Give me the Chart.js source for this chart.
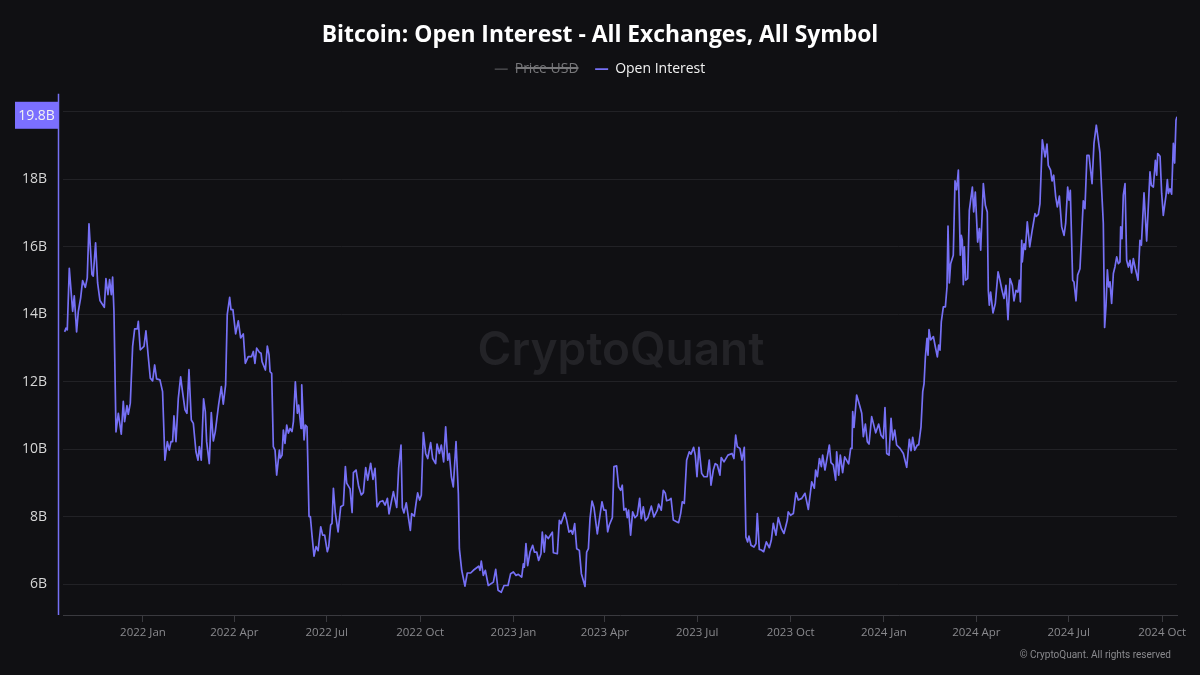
<!DOCTYPE html>
<html><head><meta charset="utf-8">
<style>html,body{margin:0;padding:0;background:#101013}canvas{display:block}</style>
<script src="https://cdn.jsdelivr.net/npm/chart.js@4"></script>
</head><body><canvas id="c" width="1200" height="675"></canvas>
<script>
const chartTitle = 'Bitcoin: Open Interest - All Exchanges, All Symbol';
const quarterDays = [0,90,181,273,365,455,546,638,730,821,912,1004];
const quarterLabels = ['2022 Jan','2022 Apr','2022 Jul','2022 Oct','2023 Jan','2023 Apr','2023 Jul','2023 Oct','2024 Jan','2024 Apr','2024 Jul','2024 Oct'];
const yTickValues = [6,8,10,12,14,16,18,20];
const lastLabel = '19.8B';
// days since 2022-01-01
const days = [-77.2,-75.9,-74.6,-72.6,-69.3,-67.7,-65.4,-63.7,-61.4,-59.5,-56.8,-54.9,-53.2,-50.3,-49,-46.7,-44.7,-42.4,-38.1,-36.5,-34.5,-32.9,-31.2,-29.9,-28.6,-26.6,-24.3,-21.4,-19.4,-18.1,-15.8,-14.5,-12.5,-10.2,-8.2,-5.6,-4.6,-2.7,1,2.9,5.2,7.2,9.5,11.5,13.4,16.7,19.3,21.6,24,25.9,27.6,29.2,30.5,32.5,34.8,37.1,38.7,41.4,43.3,45.3,47.6,49.6,52.2,54.2,55.5,57.4,59.7,61.4,62.7,65.3,67.3,69.3,71.2,74.5,77.2,79.1,81.4,83,85.4,86.7,88.6,91.3,93.9,96.2,98.8,100.8,103.7,107,108.7,110.3,112,114.6,
116.3,117.3,120.6,122.5,124.2,125.2,126.8,128.4,130.1,131.7,134.4,135.3,137,138.3,139.9,141.6,143.2,144.9,146.8,148.2,150.1,152.1,153.4,155.7,156.4,158.7,160,161.6,163.6,164.9,166.5,168.5,170.5,172.5,175.1,177,179,181.6,183,184.9,186.2,187.6,189.5,192.2,194.8,197.4,199.4,200.7,204,206,207.3,209.9,212.5,215.1,217.1,219.4,221.4,224.3,226.6,228.6,230.6,233.5,236.2,238.5,240.8,242.4,244.4,246.7,250,251.9,
254.2,255.5,257.1,259.4,261.4,263.4,264.7,267.3,269,270.6,272.6,274.2,276.2,278.5,280.5,283.4,285.4,288.3,289.7,292,293.9,296.2,298.2,300.2,301.8,303.8,305.7,308.4,310.7,311.7,314,317.2,319.5,322.8,325.5,330.7,332,333.3,335.3,337.3,340.2,345.2,347.5,349.8,353,355.7,359.6,362.2,364.9,367.5,369.8,373.1,374.7,375.7,377.3,379,381.3,383.9,385.6,387.9,389.8,392.1,393.4,395.4,396.7,399.3,403.3,404.3,408.2,410.2,411.8,413.5,415.4,417.4,419.7,421.7,423.3,425.3,427.3,429.9,431.9,435.5,437.1,438.8,440.4,442.4,444.3,447.6,449.6,
452.2,454.1,456.1,457.8,459.4,462.4,464,466.6,468.6,470.6,472.2,473.8,475.8,477.1,478.4,480.4,482.4,484.7,487,489.3,490.9,492.9,494.9,497.5,500.8,503.4,506.7,508,510.6,512.6,514.6,515.9,518.2,520.2,522.5,525.7,527.7,529.7,531.3,533.3,535.6,538.2,539.9,542.5,544.1,545.8,547.7,550.4,552.7,555.9,557.9,559.6,561.9,563.8,565.8,568.4,569.7,572.4,576.3,580.3,582.2,583.9,585.5,588.1,590.1,592.4,594,595.7,597,599,601.9,603.9,605.2,607.2,609.2,611.5,614.1,617,619,621,623.6,625.9,628.9,631.5,634.8,635.7,638,640.7,643.3,645.6,
649,652.2,655.5,658.8,661.4,662.7,664.4,666.4,668.3,669.6,671.9,676.2,677.8,680.1,682.4,683.4,685.4,687,689.3,691.3,695.2,697.2,698.5,699.2,700.5,703.1,706.4,708.1,709.7,711.7,713.6,715.3,717.9,721.9,724.8,727.1,729.4,731,732.7,735,737,738.6,740.6,742.5,745.8,749.1,752.4,755,756.7,758.3,760.3,762.9,764.2,766.5,768.2,769.5,770.8,772.4,773.4,774.4,776,778.7,780.6,782.6,783.9,785.2,786.5,
788.5,790.5,792.1,793.1,794.4,795.7,798.3,800,801.6,803.3,805.2,806.2,807.2,808.2,809.2,810.5,812.5,814.1,817.1,818.4,820,822.3,824,825.3,827.9,829.9,831.8,832.8,833.8,835.1,837.4,839.7,842.4,844.3,846.3,848.3,850.2,852.2,854.2,856.5,858.1,860.1,862,863.4,864.4,865.7,866.3,868,869.3,871.2,873.6,875.8,877.2,878.8,880.1,882.1,883.7,886,888.7,890.6,891.9,894.2,895.6,897.2,899.2,900.8,902.8,905.1,907.4,909,911,912.3,913.6,915.9,917.2,919.2,920.8,923.1,926.4,928,930,932,935,936.9,939.2,941.2,942.8,944.5,946.1,947.4,948.8,950.1,951.4,952.7,954.3,956,957.6,959.3,960.9,962.5,963.2,964.5,965.8,967.5,969.1,970.8,972.4,974,975.7,977.7,980.3,982.2,983.6,986.2,988.8,992.1,993.4,995.4,997.4,998.7,999.7,1002,1003.6,1005.2,1007.9,1009.2,1010.2,1011.8,1013.4,1015.1,1016.4,1017.7,1018.7];
// billions USD
const openInterest = [13.48,13.59,13.54,15.36,14.09,14.55,13.48,14.09,14.49,15,14.8,15.08,16.68,15.18,15.13,16.12,14.93,14.41,14.21,15.06,14.58,15.03,14.58,15.1,14.09,10.52,11.07,10.45,11.42,10.82,11.3,11.04,11.37,13.05,13.57,13.57,13.79,12.95,13.05,13.51,12.75,12.11,12.03,12.5,12.09,12.06,11.71,9.68,10.23,9.98,10.23,10.23,10.99,10.23,11.51,12.15,11.76,11.17,11.07,12.36,10.87,10.77,9.93,9.68,10.08,9.68,11.5,11.12,10.23,9.58,11.09,10.25,10.52,11.32,11.86,11.34,11.91,13.99,14.5,14.14,14.14,13.42,13.81,13.3,13.42,12.55,12.75,12.75,12.9,12.55,13,12.88,
12.85,12.6,12.35,13.06,12.8,12.3,12.25,10.08,9.98,9.24,9.98,9.74,9.83,10.57,10.18,10.72,10.48,10.62,10.53,10.82,12,11.07,11.31,10.62,11.91,10.28,10.72,10.67,8.01,8.01,7.46,6.84,7.12,7,7.71,7.46,7.46,6.97,7.12,7.76,7.81,8.85,8.11,7.56,8.3,8.35,9.49,9,8.83,8.13,9.31,9.39,8.9,8.65,8.72,9.46,9.09,9.59,9.11,9.44,8.3,8.45,8.48,8.35,8.55,8.09,8.4,8.75,8.28,9.45,
10.13,8.28,8.12,8.42,8,7.6,8.1,8.02,8.4,8.71,8.5,8.64,10.5,9.88,9.73,10.2,9.73,9.58,10.16,9.88,10.13,9.63,10.67,9.68,9.88,9.19,8.89,10.23,8.69,7.06,6.42,5.95,6.34,6.34,6.42,6.54,6.42,6.69,6.27,6.42,5.97,6.07,6.45,5.83,5.77,5.97,5.97,6.32,6.37,6.27,6.3,6.22,6.61,6.51,7.21,6.56,6.96,7.16,6.96,6.96,6.71,6.91,7.55,6.96,7.46,7.36,7.55,6.94,6.91,7.9,7.8,7.95,8.12,7.9,7.55,7.6,7.49,7.8,7.06,7.01,6.32,5.94,6.96,7.06,7.95,8.47,8.28,7.5,7.92,
8.45,8.2,8.2,7.56,7.76,7.98,9.49,9.51,8.89,8.79,8.94,8.2,8.25,7.98,8.2,7.46,8.15,7.98,8.05,8.55,7.95,8.3,7.89,7.98,8.32,8,8.2,8.38,8.2,8.79,8.7,8.48,8.5,8.55,7.91,7.86,7.83,8.1,8.45,8.4,9.68,9.93,9.86,10.06,9.83,9.19,10.06,9.29,9.19,9.19,9.68,8.94,9.39,9.58,9.54,9.24,9.76,9.63,9.83,9.88,9.73,10.42,10.08,10.03,9.68,10.06,7.41,7.26,7.43,7.16,7.11,7.21,8.1,7.04,7.02,6.97,7.26,7.09,7.31,7.81,7.46,7.98,7.66,7.51,7.91,8.15,8.05,8.1,8.72,8.5,
8.55,8.7,8.22,9.04,8.85,9.39,9.19,9.73,9.49,9.83,9.39,10.13,9.61,9.54,9.09,9.93,9.24,9.83,9.31,9.78,9.57,10.03,10.03,11.12,10.65,11.61,11.26,11.07,10.38,10.75,10.23,10.16,10.97,10.49,10.75,10.42,10.33,11.24,9.88,9.83,10.92,10.28,10.57,10.13,10.03,9.88,9.47,10.3,9.96,10.36,9.98,10.13,10.13,10.67,11.71,11.95,12.74,13.29,12.79,13.55,13.24,13.34,13.04,12.74,13.09,12.94,13.78,
14.22,14.22,14.81,16.61,14.93,15.5,15.75,17.95,17.69,18.27,15.75,16.34,16.19,14.88,16,15.01,15.06,17.08,17.77,17.03,17.62,16.14,16.54,15.9,17.87,17.23,17.03,14.71,14.27,14.66,14.04,14.32,15.26,15.01,14.71,14.47,14.86,13.84,15.06,14.86,14.4,14.71,14.66,15.01,14.37,16.19,15.55,16.09,15.92,16.74,16,16.44,16.69,16.98,16.9,16.96,17.28,19.17,18.66,19.04,18.41,18.27,17.95,18.12,17.48,17.18,17.5,16.59,16.34,16.69,17.77,17.38,17.67,15.01,14.96,14.4,15.16,15.35,17.36,17.13,18.71,18.71,17.87,19.06,19.6,19.15,18.78,17.67,16.69,13.61,14.27,15.32,14.81,14.96,14.32,15.21,15.41,15.7,15.5,15.55,16.59,16.24,17.53,17.87,15.6,15.4,15.6,15.23,15.65,15.35,15.01,16.19,16.05,17.6,16.17,18.22,17.82,17.77,18.56,18.12,18.76,18.68,17.58,16.93,17.53,17.99,17.58,17.72,17.56,19.06,18.48,19.75,19.85];

const UI = '"Open Sans","Noto Sans",sans-serif';
const OI_COLOR = '#7670f5';
const oiPoints = days.map((d,i)=>({x:d,y:openInterest[i]}));

const decor = {
  id:'decor',
  beforeInit(chart){
    const lg = chart.legend, fit = lg.fit;
    lg.fit = function(){ fit.call(this); this.height = 48.2; };
  },
  beforeDatasetsDraw(chart){
    const {ctx} = chart;
    ctx.save();
    ctx.fillStyle = '#232327';
    ctx.font = '600 46px Inter,'+UI;
    ctx.textAlign='center'; ctx.textBaseline='middle';
    ctx.fillText('CryptoQuant',621,351);
    ctx.restore();
  },
  afterDraw(chart){
    const {ctx,chartArea:a,scales:{y}} = chart;
    const last = openInterest[openInterest.length-1];
    const cy = y.getPixelForValue(last)-1.5;
    ctx.save();
    ctx.strokeStyle = OI_COLOR; ctx.lineWidth = 1.5;
    ctx.beginPath(); ctx.moveTo(58.5,a.top); ctx.lineTo(58.5,a.bottom); ctx.stroke();
    ctx.fillStyle = '#7b6fff';
    ctx.fillRect(15,cy-13.5,43.5,27);
    ctx.fillStyle = '#f2f2f2';
    ctx.font = '14px '+UI;
    ctx.textAlign='center'; ctx.textBaseline='middle';
    ctx.fillText(lastLabel,36.5,cy+0.5);
    ctx.fillStyle = '#8a8a8e';
    ctx.font = '10px Roboto,'+UI;
    ctx.textAlign='right';
    ctx.fillText('© CryptoQuant. All rights reserved',1171,655);
    ctx.restore();
  }
};

new Chart(document.getElementById('c'),{
  type:'line',
  data:{datasets:[
    {label:'Price USD',data:[],hidden:true,borderColor:'#666669',backgroundColor:'#666669'},
    {label:'Open Interest',data:oiPoints,borderColor:OI_COLOR,backgroundColor:OI_COLOR,borderWidth:1.7,pointRadius:0,tension:0,borderJoinStyle:'round'}
  ]},
  options:{
    responsive:false,animation:false,
    layout:{padding:{left:23,right:23,top:0,bottom:0}},
    plugins:{
      title:{display:true,text:chartTitle,color:'#ffffff',font:{family:UI,size:22.85,weight:'700'},padding:{top:21.6,bottom:-3.4}},
      legend:{display:true,position:'top',labels:{
        usePointStyle:true,pointStyle:'line',pointStyleWidth:13,boxHeight:8,padding:16.5,
        font:{family:UI,size:14},color:'#f2f2f2',
        generateLabels(chart){
          return Chart.defaults.plugins.legend.labels.generateLabels(chart).map(l=>{
            l.fontColor = l.hidden ? '#77777a' : '#f2f2f2';
            l.pointStyle='line';
            return l;
          });
        }
      }},
      tooltip:{enabled:false}
    },
    scales:{
      x:{type:'linear',min:-78.8,max:1018.7,
        afterBuildTicks(s){s.ticks = quarterDays.map(v=>({value:v}));},
        afterFit(s){s.height=60;},
        grid:{drawOnChartArea:false,drawTicks:true,tickLength:7,color:'#3a3a3f'},
        border:{display:true,color:'#3a3a3f'},
        ticks:{autoSkip:false,maxRotation:0,padding:4,color:'#8a8a8e',font:{family:UI,size:11.5},
          callback(v){const i=quarterDays.indexOf(v);return i<0?'':quarterLabels[i];}}
      },
      y:{type:'linear',min:5.096,max:20.53,
        afterBuildTicks(s){s.ticks = yTickValues.map(v=>({value:v}));},
        afterFit(s){s.width=40;},
        grid:{color:'#222226',drawTicks:false},
        border:{display:false},
        ticks:{padding:16,color:'#d6d6d6',font:{family:UI,size:14},
          callback(v){return v===20?'':v+'B';}}
      }
    }
  },
  plugins:[decor]
});
</script></body></html>
